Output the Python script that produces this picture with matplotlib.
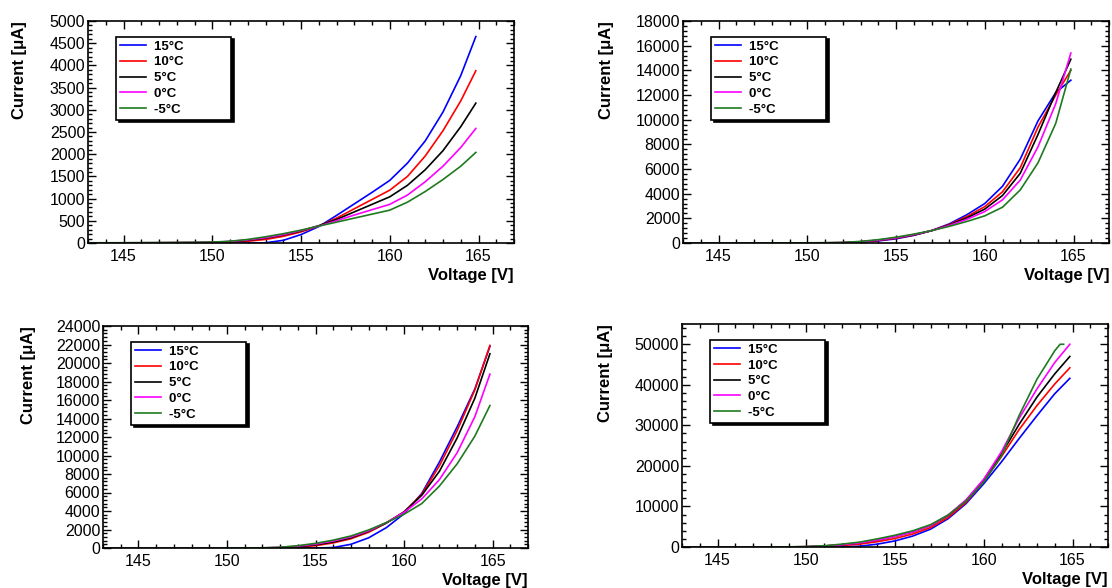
import matplotlib.pyplot as plt
from matplotlib.ticker import MultipleLocator

plt.rcParams['font.family'] = ['Liberation Sans', 'DejaVu Sans']

labels = ['15°C', '10°C', '5°C', '0°C', '-5°C']
colors = ['#0000ff', '#ff0000', '#000000', '#ff00ff', '#1f7a1f']

# voltage points (V)
volt = [143, 144, 145, 146, 147, 148, 149, 150, 151, 152, 153, 154, 155, 156,
        157, 158, 159, 160, 161, 162, 163, 164, 164.85]

# panel 1 (uA)
p1_15 = [0, 0, 0, 0, 0, 0, 0, 0, 0, 0, 5, 60, 190, 370, 620, 880, 1140, 1410, 1800, 2300, 2950, 3770, 4650]
p1_10 = [2, 2, 2, 3, 4, 5, 7, 10, 20, 40, 80, 150, 250, 380, 560, 770, 980, 1190, 1500, 1960, 2530, 3200, 3880]
p1_5 = [3, 3, 4, 5, 6, 8, 10, 15, 30, 60, 110, 180, 270, 390, 530, 700, 870, 1040, 1300, 1650, 2080, 2620, 3150]
p1_0 = [3, 3, 4, 5, 6, 8, 10, 15, 35, 70, 120, 190, 280, 380, 500, 630, 750, 870, 1080, 1380, 1730, 2150, 2580]
p1_m5 = [5, 5, 6, 7, 9, 11, 14, 20, 40, 80, 140, 210, 290, 380, 470, 560, 650, 740, 920, 1160, 1430, 1730, 2040]

# panel 2
p2_15 = [0, 0, 0, 0, 0, 0, 0, 0, 0, 10, 60, 170, 340, 620, 1000, 1550, 2300, 3200, 4600, 6800, 9900, 12200, 13200]
p2_10 = [0, 0, 0, 0, 0, 0, 0, 5, 10, 20, 80, 200, 380, 640, 1000, 1500, 2150, 2950, 4150, 6100, 9400, 12000, 14000]
p2_5 = [0, 0, 0, 0, 0, 0, 5, 10, 15, 30, 100, 220, 400, 650, 1000, 1460, 2040, 2750, 3850, 5650, 8800, 12200, 14900]
p2_0 = [0, 0, 0, 0, 0, 0, 5, 10, 15, 30, 100, 230, 420, 680, 1000, 1420, 1920, 2550, 3500, 5100, 7800, 11300, 15400]
p2_m5 = [5, 5, 5, 5, 5, 5, 10, 15, 25, 40, 130, 270, 470, 720, 1000, 1350, 1750, 2200, 2900, 4300, 6500, 9700, 14100]

# panel 3
p3_15 = [0, 0, 0, 0, 0, 0, 0, 0, 0, 0, 0, 0, 0, 50, 400, 1100, 2200, 3700, 5900, 9300, 13100, 17200, 21800]
p3_10 = [0, 0, 0, 0, 0, 0, 0, 0, 0, 5, 20, 100, 250, 550, 1000, 1700, 2700, 3900, 5800, 8900, 12700, 17100, 21900]
p3_5 = [0, 0, 0, 0, 0, 0, 0, 0, 5, 10, 40, 150, 350, 650, 1100, 1800, 2700, 3900, 5700, 8300, 11900, 16200, 21000]
p3_0 = [0, 0, 0, 0, 0, 0, 0, 0, 5, 15, 60, 200, 420, 750, 1200, 1850, 2750, 3850, 5300, 7400, 10300, 14200, 18800]
p3_m5 = [0, 0, 0, 0, 0, 0, 0, 5, 10, 20, 80, 250, 500, 850, 1300, 1950, 2750, 3650, 4800, 6700, 9100, 12100, 15400]

# panel 4
p4_15 = [0, 0, 0, 0, 0, 0, 0, 0, 0, 30, 200, 700, 1500, 2700, 4400, 7000, 10700, 15600, 21000, 26800, 32400, 37800, 41600]
p4_10 = [0, 0, 0, 0, 0, 0, 10, 50, 150, 350, 700, 1300, 2100, 3200, 4800, 7300, 11000, 16200, 22300, 29000, 34900, 40200, 44200]
p4_5 = [0, 0, 0, 0, 0, 10, 30, 80, 250, 550, 1000, 1700, 2600, 3700, 5300, 7800, 11500, 16600, 23000, 30300, 37000, 42700, 47000]
p4_0 = [0, 0, 0, 0, 0, 10, 30, 80, 250, 550, 1000, 1700, 2600, 3700, 5300, 7900, 11600, 16700, 23500, 31800, 39000, 45500, 50000]
volt_p4_m5 = [143, 144, 145, 146, 147, 148, 149, 150, 151, 152, 153, 154, 155, 156,
              157, 158, 159, 160, 161, 162, 163, 164, 164.3, 164.5]
p4_m5 = [0, 0, 0, 0, 0, 10, 40, 100, 300, 700, 1200, 2000, 2900, 4000, 5500, 7900, 11300, 16000, 22500, 32500, 41400, 48400, 50000, 50000]

panels = [
    ([volt] * 5, [p1_15, p1_10, p1_5, p1_0, p1_m5], 5000, 500, 100,
     [88 / 1112, 1 - 243 / 588, 426 / 1112, 222 / 588], 27),
    ([volt] * 5, [p2_15, p2_10, p2_5, p2_0, p2_m5], 18000, 2000, 400,
     [683 / 1112, 1 - 243 / 588, 426 / 1112, 222 / 588], 614),
    ([volt] * 5, [p3_15, p3_10, p3_5, p3_0, p3_m5], 24000, 2000, 400,
     [103 / 1112, 1 - 548 / 588, 425 / 1112, 222 / 588], 36),
    ([volt] * 4 + [volt_p4_m5], [p4_15, p4_10, p4_5, p4_0, p4_m5], 55000, 10000, 2000,
     [682 / 1112, 1 - 547 / 588, 426 / 1112, 223 / 588], 613),
]

fig = plt.figure(figsize=(11.12, 5.88), dpi=100)

for xs, ys, ymax, ymaj, ymin, rect, ylab_x in panels:
    ax = fig.add_axes(rect)
    for x, y, c, lab in zip(xs, ys, colors, labels):
        ax.plot(x, y, color=c, lw=1.2, label=lab)
    ax.set_xlim(143, 167)
    ax.set_ylim(0, ymax)
    ax.xaxis.set_major_locator(MultipleLocator(5))
    ax.xaxis.set_minor_locator(MultipleLocator(1))
    ax.yaxis.set_major_locator(MultipleLocator(ymaj))
    ax.yaxis.set_minor_locator(MultipleLocator(ymin))
    ax.tick_params(which='both', direction='in', top=True, right=True, labelsize=11.5, width=1)
    ax.tick_params(which='major', length=6)
    ax.tick_params(which='minor', length=3)
    ax.tick_params(axis='x', pad=4)
    ax.tick_params(axis='y', pad=2)
    for s in ax.spines.values():
        s.set_linewidth(1.2)
    ax.set_xlabel('Voltage [V]', fontsize=12, fontweight='bold', loc='right', labelpad=3)
    ax.set_ylabel('Current [μA]', fontsize=12, fontweight='bold', loc='top')
    # place y label at the pixel column seen in the reference
    ax.yaxis.set_label_coords((ylab_x - rect[0] * 1112) / (rect[2] * 1112), 1.0)
    leg = ax.legend(loc='upper left', bbox_to_anchor=(0.066, 0.93),
                    prop={'weight': 'bold', 'size': 9.5}, frameon=True, fancybox=False,
                    shadow={'color': 'black', 'alpha': 1}, edgecolor='black',
                    handlelength=2.0, handletextpad=0.6, labelspacing=0.265,
                    borderpad=0.3, borderaxespad=0)
    leg.get_frame().set_linewidth(1.2)
    # widen legend box to match reference
    for t in leg.get_texts():
        t.set_text(t.get_text() + '            ')

fig.savefig('out.png', dpi=100)
